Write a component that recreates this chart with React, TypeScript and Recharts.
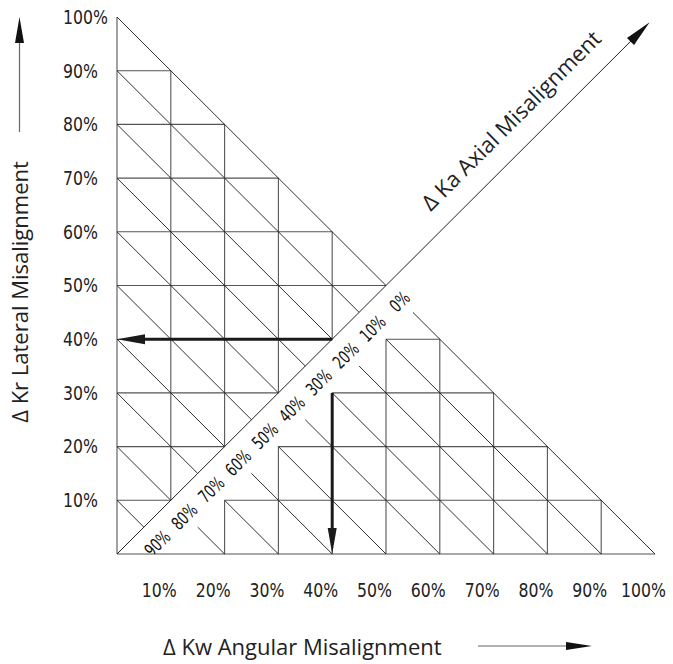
import React from 'react';
import { ComposedChart, XAxis, YAxis, Scatter, ReferenceLine, ReferenceDot } from 'recharts';

// ---------- data (percent units) ----------
const xTicks = [10, 20, 30, 40, 50, 60, 70, 80, 90, 100];
const yTicks = [10, 20, 30, 40, 50, 60, 70, 80, 90, 100];

// labels along the axial band
const axialLabels = ['90%', '80%', '70%', '60%', '50%', '40%', '30%', '20%', '10%', '0%'];
const axialLabelX = [7.5, 12.5, 17.5, 22.5, 27.5, 32.5, 37.5, 42.5, 47.5, 52.5];
const axialLabelY = [2, 7, 12, 17, 22, 27, 32, 37, 42, 47];

// upper-left triangle grid
const upperRowY = [10, 20, 30, 40, 50, 60, 70, 80, 90];
const upperRowEndX = [10, 20, 30, 40, 50, 40, 30, 20, 10];
const upperColX = [10, 20, 30, 40];
const upperColBottomY = [10, 20, 30, 40];
const upperColTopY = [90, 80, 70, 60];
const upperDiagSum = [10, 20, 30, 40, 50, 60, 70, 80, 90, 100];
const upperDiagEndX = [5, 10, 15, 20, 25, 30, 35, 40, 45, 50];

// lower-right staircase grid
const lowerRowY = [10, 20, 30, 40];
const lowerRowStartX = [20, 30, 40, 50];
const lowerRowEndX = [90, 80, 70, 60];
const lowerColX = [20, 30, 40, 50, 60, 70, 80, 90];
const lowerColTopY = [10, 20, 30, 40, 40, 30, 20, 10];
const lowerDiagSum = [20, 30, 40, 50, 60, 70, 80, 90, 100];
const lowerDiagStartX = [15, 20, 25, 30, 35, 40, 45, 50, 55];

// arrows
const axialArrow = [{ x: 0, y: 0 }, { x: 99, y: 99 }];
const lateralArrow = [{ x: 40, y: 40 }, { x: 0, y: 40 }];
const angularArrow = [{ x: 40, y: 30 }, { x: 40, y: 0 }];
const axialTitlePos = { x: 77, y: 77 };

// ---------- styles ----------
const TICK_FONT = "'Liberation Sans Narrow', 'DejaVu Sans Condensed', 'Arial Narrow', sans-serif";
const TITLE_FONT = "'Open Sans', 'Noto Sans', sans-serif";
const HV_COLOR = '#555';
const DIAG_COLOR = '#1a1a1a';

type Seg = { x1: number; y1: number; x2: number; y2: number };

const hvSegs: Seg[] = [
  { x1: 0, y1: 0, x2: 0, y2: 100 },
  { x1: 0, y1: 0, x2: 100, y2: 0 },
  ...upperRowY.map((y, i) => ({ x1: 0, y1: y, x2: upperRowEndX[i], y2: y })),
  ...upperColX.map((x, i) => ({ x1: x, y1: upperColBottomY[i], x2: x, y2: upperColTopY[i] })),
  ...lowerRowY.map((y, i) => ({ x1: lowerRowStartX[i], y1: y, x2: lowerRowEndX[i], y2: y })),
  ...lowerColX.map((x, i) => ({ x1: x, y1: 0, x2: x, y2: lowerColTopY[i] })),
];

const diagSegs: Seg[] = [
  ...upperDiagSum.map((c, i) => ({ x1: 0, y1: c, x2: upperDiagEndX[i], y2: c - upperDiagEndX[i] })),
  ...lowerDiagSum.map((c, i) => ({ x1: lowerDiagStartX[i], y1: c - lowerDiagStartX[i], x2: c, y2: 0 })),
];

const axialLabelData = axialLabels.map((label, i) => ({ x: axialLabelX[i], y: axialLabelY[i], label }));

function arrowShape(head: number, half: number, width: number, color: string, headColor?: string) {
  return (p: any) => {
    const x1 = +p.x1, y1 = +p.y1, x2 = +p.x2, y2 = +p.y2;
    const dx = x2 - x1, dy = y2 - y1;
    const L = Math.hypot(dx, dy) || 1;
    const ux = dx / L, uy = dy / L;
    const nx = -uy, ny = ux;
    const bx = x2 - ux * head, by = y2 - uy * head;
    return (
      <g>
        <line x1={x1} y1={y1} x2={bx + ux * 2} y2={by + uy * 2} stroke={color} strokeWidth={width} />
        <polygon
          points={`${x2},${y2} ${bx + nx * half},${by + ny * half} ${bx - nx * half},${by - ny * half}`}
          fill={headColor || color}
        />
      </g>
    );
  };
}

const YTick = (p: any) => {
  const { y, payload } = p;
  return (
    <text
      x={0}
      y={0}
      dy="0.36em"
      textAnchor="start"
      transform={`translate(63 ${y}) scale(0.92 1)`}
      fontFamily={TICK_FONT}
      fontSize={19}
      fill="#222"
    >
      {`${payload.value}%`}
    </text>
  );
};

const XTick = (p: any) => {
  const { x, payload } = p;
  return (
    <text
      x={0}
      y={0}
      dy="0.36em"
      textAnchor="middle"
      transform={`translate(${x - 11.5} 590) scale(0.92 1)`}
      fontFamily={TICK_FONT}
      fontSize={19}
      fill="#222"
    >
      {`${payload.value}%`}
    </text>
  );
};

const XTitle = () => (
  <g>
    <text x={163} y={655} fontFamily={TITLE_FONT} fontSize={22} fill="#222">
      Δ Kw Angular Misalignment
    </text>
    <line x1={478} y1={646} x2={570} y2={646} stroke="#666" strokeWidth={1.2} />
    <polygon points="592,646 566,642 566,650" fill="#111" />
  </g>
);

const YTitle = () => (
  <g>
    <text
      x={28}
      y={292}
      textAnchor="middle"
      transform="rotate(-90 28 292)"
      fontFamily={TITLE_FONT}
      fontSize={22}
      fill="#222"
    >
      Δ Kr Lateral Misalignment
    </text>
    <line x1={19.5} y1={132} x2={19.5} y2={40} stroke="#666" strokeWidth={1.2} />
    <polygon points="19.5,17 15,43 24,43" fill="#111" />
  </g>
);

const AxialLabel = (p: any) => {
  const { cx, cy, payload } = p;
  return (
    <text
      x={0}
      y={0}
      dy="0.36em"
      textAnchor="middle"
      transform={`translate(${cx} ${cy}) rotate(-45) scale(0.78 1)`}
      fontFamily={TICK_FONT}
      fontSize={18}
      fill="#111"
    >
      {payload.label}
    </text>
  );
};

const AxialTitle = (p: any) => {
  const { cx, cy } = p;
  return (
    <text
      x={cx}
      y={cy - 20.5}
      textAnchor="middle"
      transform={`rotate(-45 ${cx} ${cy})`}
      fontFamily={TITLE_FONT}
      fontSize={22}
      fill="#222"
    >
      Δ Ka Axial Misalignment
    </text>
  );
};

export default function App() {
  return (
    <div style={{ position: 'absolute', left: 0, top: 0, width: 673, height: 664, background: '#fff' }}>
      <ComposedChart width={673} height={664} margin={{ top: 17, right: 18, bottom: 0, left: 0 }}>
        <XAxis
          type="number"
          dataKey="x"
          domain={[0, 100]}
          ticks={xTicks}
          interval={0}
          height={110}
          axisLine={false}
          tickLine={false}
          tick={<XTick />}
          label={<XTitle />}
          allowDataOverflow
        />
        <YAxis
          type="number"
          dataKey="y"
          domain={[0, 100]}
          ticks={yTicks}
          interval={0}
          width={117}
          axisLine={false}
          tickLine={false}
          tick={<YTick />}
          label={<YTitle />}
          allowDataOverflow
        />
        {hvSegs.map((s, i) => (
          <ReferenceLine
            key={`hv${i}`}
            segment={[{ x: s.x1, y: s.y1 }, { x: s.x2, y: s.y2 }]}
            stroke={HV_COLOR}
            strokeWidth={1.1}
            ifOverflow="visible"
          />
        ))}
        {diagSegs.map((s, i) => (
          <ReferenceLine
            key={`dg${i}`}
            segment={[{ x: s.x1, y: s.y1 }, { x: s.x2, y: s.y2 }]}
            stroke={DIAG_COLOR}
            strokeWidth={0.9}
            ifOverflow="visible"
          />
        ))}
        <ReferenceLine segment={axialArrow} ifOverflow="visible" shape={arrowShape(27, 5, 1, '#222', '#111')} />
        <ReferenceLine segment={lateralArrow} ifOverflow="visible" shape={arrowShape(28, 5, 3, '#1a1a1a')} />
        <ReferenceLine segment={angularArrow} ifOverflow="visible" shape={arrowShape(26, 4.5, 3, '#1a1a1a')} />
        <ReferenceDot x={axialTitlePos.x} y={axialTitlePos.y} ifOverflow="visible" shape={<AxialTitle />} />
        <Scatter data={axialLabelData} shape={<AxialLabel />} isAnimationActive={false} />
      </ComposedChart>
    </div>
  );
}
